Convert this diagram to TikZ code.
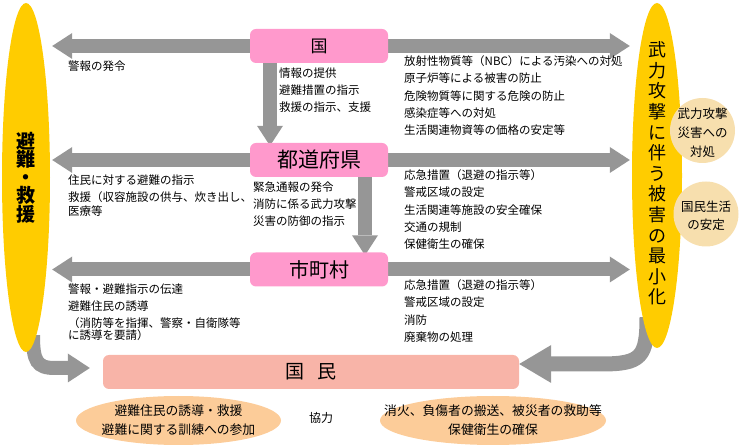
\documentclass[tikz,border=0pt]{standalone}
\usepackage{fontspec}
\setmainfont{Noto Sans CJK JP}
\usetikzlibrary{arrows.meta,shapes.geometric,backgrounds}
\definecolor{kiiro}{HTML}{FFCC00}
\definecolor{momo}{HTML}{FF99CC}
\definecolor{sake}{HTML}{F8B4A8}
\definecolor{daidai}{HTML}{FCCC99}
\definecolor{hada}{HTML}{F7DFAE}
\definecolor{hai}{HTML}{969696}
\newcommand\tsumeru{\lineskiplimit=-20pt\relax}
\begin{document}
\begin{tikzpicture}[x=1pt,y=-1pt,
  box/.style={fill=momo,rounded corners=6pt,minimum width=138pt,minimum height=34pt,inner sep=0pt},
  memo/.style={anchor=north west,inner sep=0pt,align=left,font=\fontsize{11.5}{17.4}\selectfont},
  moji/.style={inner sep=0pt,align=center},
  flow/.style={draw=hai,line width=14pt,-{Triangle[width=26pt,length=20pt,line width=0pt]}}]
\useasboundingbox (0,0) rectangle (740,446);
\node[ellipse,fill=kiiro,minimum width=48pt,minimum height=349pt,inner sep=0pt] (hinan) at (26,177.5) {};
\node[moji,font=\bfseries\fontsize{19}{18.3}\selectfont\tsumeru] (hinanmoji) at (hinan) {避\\難\\・\\救\\援};
\node[ellipse,fill=kiiro,minimum width=50pt,minimum height=345pt,inner sep=0pt] (saishou) at (657,175.5) {};
\node[moji,font=\fontsize{18}{20.6}\selectfont] (saishoumoji) at ([yshift=2pt]saishou) {武\\力\\攻\\撃\\に\\伴\\う\\被\\害\\の\\最\\小\\化};
\node[circle,fill=hada,minimum size=65pt,inner sep=0pt] (taisho) at (702.5,130.5) {};
\node[moji,font=\fontsize{12.5}{19}\selectfont] (taishomoji) at ([yshift=-2pt]taisho) {武力攻撃\\災害への\\対処};
\node[circle,fill=hada,minimum size=65pt,inner sep=0pt] (antei) at (706,214) {};
\node[moji,font=\fontsize{12.5}{18}\selectfont] (anteimoji) at ([yshift=-2pt]antei) {国民生活\\の安定};

\node[box,font=\fontsize{17}{17}\selectfont] (kuni) at (319,46) {国};
\node[box,font=\fontsize{21}{21}\selectfont] (todofuken) at (319,160) {都道府県};
\node[box,font=\fontsize{20}{20}\selectfont] (shichoson) at (319,269.5) {市町村};
\node[fill=sake,rounded corners=6pt,minimum width=416pt,minimum height=34pt,inner sep=0pt,font=\fontsize{19}{19}\selectfont] (kokumin) at (311,372) {国\hspace{0.7em}民};

\node[ellipse,fill=daidai,minimum width=205pt,minimum height=49pt,inner sep=0pt] (yudo) at (178.5,420.5) {};
\node[moji,font=\fontsize{12.8}{19}\selectfont] (yudomoji) at (yudo) {避難住民の誘導・救援\\避難に関する訓練への参加};
\node[ellipse,fill=daidai,minimum width=226pt,minimum height=49pt,inner sep=0pt] (shoka) at (493,420.5) {};
\node[moji,font=\fontsize{12.8}{19}\selectfont] (shokamoji) at (shoka) {消火、負傷者の搬送、被災者の救助等\\保健衛生の確保};
\node[font=\fontsize{12}{12}\selectfont,inner sep=0pt] (kyoryoku) at (321,418) {協力};

\node[memo] (keiho) at (68,60.3) {警報の発令};
\node[memo] (kunijoho) at (279,67.3) {情報の提供\\避難措置の指示\\救援の指示、支援};
\node[memo] (kunitaisho) at (404,55.3) {放射性物質等（NBC）による汚染への対処\\原子炉等による被害の防止\\危険物質等に関する危険の防止\\感染症等への対処\\生活関連物資等の価格の安定等};
\node[memo] (todojumin) at (68,174.3) {住民に対する避難の指示\\救援（収容施設の供与、炊き出し、\\[-3.4pt]医療等};
\node[memo] (todokinkyu) at (253,181.3) {緊急通報の発令\\消防に係る武力攻撃\\災害の防御の指示};
\node[memo] (todooukyu) at (404,169.3) {応急措置（退避の指示等）\\警戒区域の設定\\生活関連等施設の安全確保\\交通の規制\\保健衛生の確保};
\node[memo] (shikeiho) at (68,283.3) {警報・避難指示の伝達\\避難住民の誘導\\（消防等を指揮、警察・自衛隊等\\[-5.4pt]に誘導を要請）};
\node[memo] (shioukyu) at (404,279.3) {応急措置（退避の指示等）\\警戒区域の設定\\消防\\廃棄物の処理};

\begin{scope}[on background layer]
\foreach \n in {kuni,todofuken,shichoson}{
  \draw[flow] (\n.west) -- ([xshift=2pt]\n.west -| hinan.east);
  \draw[flow] (\n.east) -- ([xshift=-2pt]\n.east -| saishou.west);
}
\draw[flow] ([xshift=-49pt]kuni.south) -- ([xshift=-49pt,yshift=-3pt]todofuken.north);
\draw[flow] ([xshift=46pt]todofuken.south) -- ([xshift=46pt,yshift=-3pt]shichoson.north);
\draw[flow,-{Triangle[width=29pt,length=22pt,line width=0pt]}] ([xshift=7pt,yshift=17pt]hinan.south) .. controls +(0,26) and +(-18,0) .. ([xshift=-48pt,yshift=4pt]kokumin.west) -- ([xshift=-13pt,yshift=4pt]kokumin.west);
\draw[flow,line width=15pt,-{Triangle[width=38pt,length=32pt,line width=0pt]}] ([xshift=-10pt,yshift=31pt]saishou.south) .. controls +(0,40) and +(40,0) .. ([xshift=82pt,yshift=8pt]kokumin.east) -- ([yshift=8pt]kokumin.east);
\end{scope}
\end{tikzpicture}
\end{document}
